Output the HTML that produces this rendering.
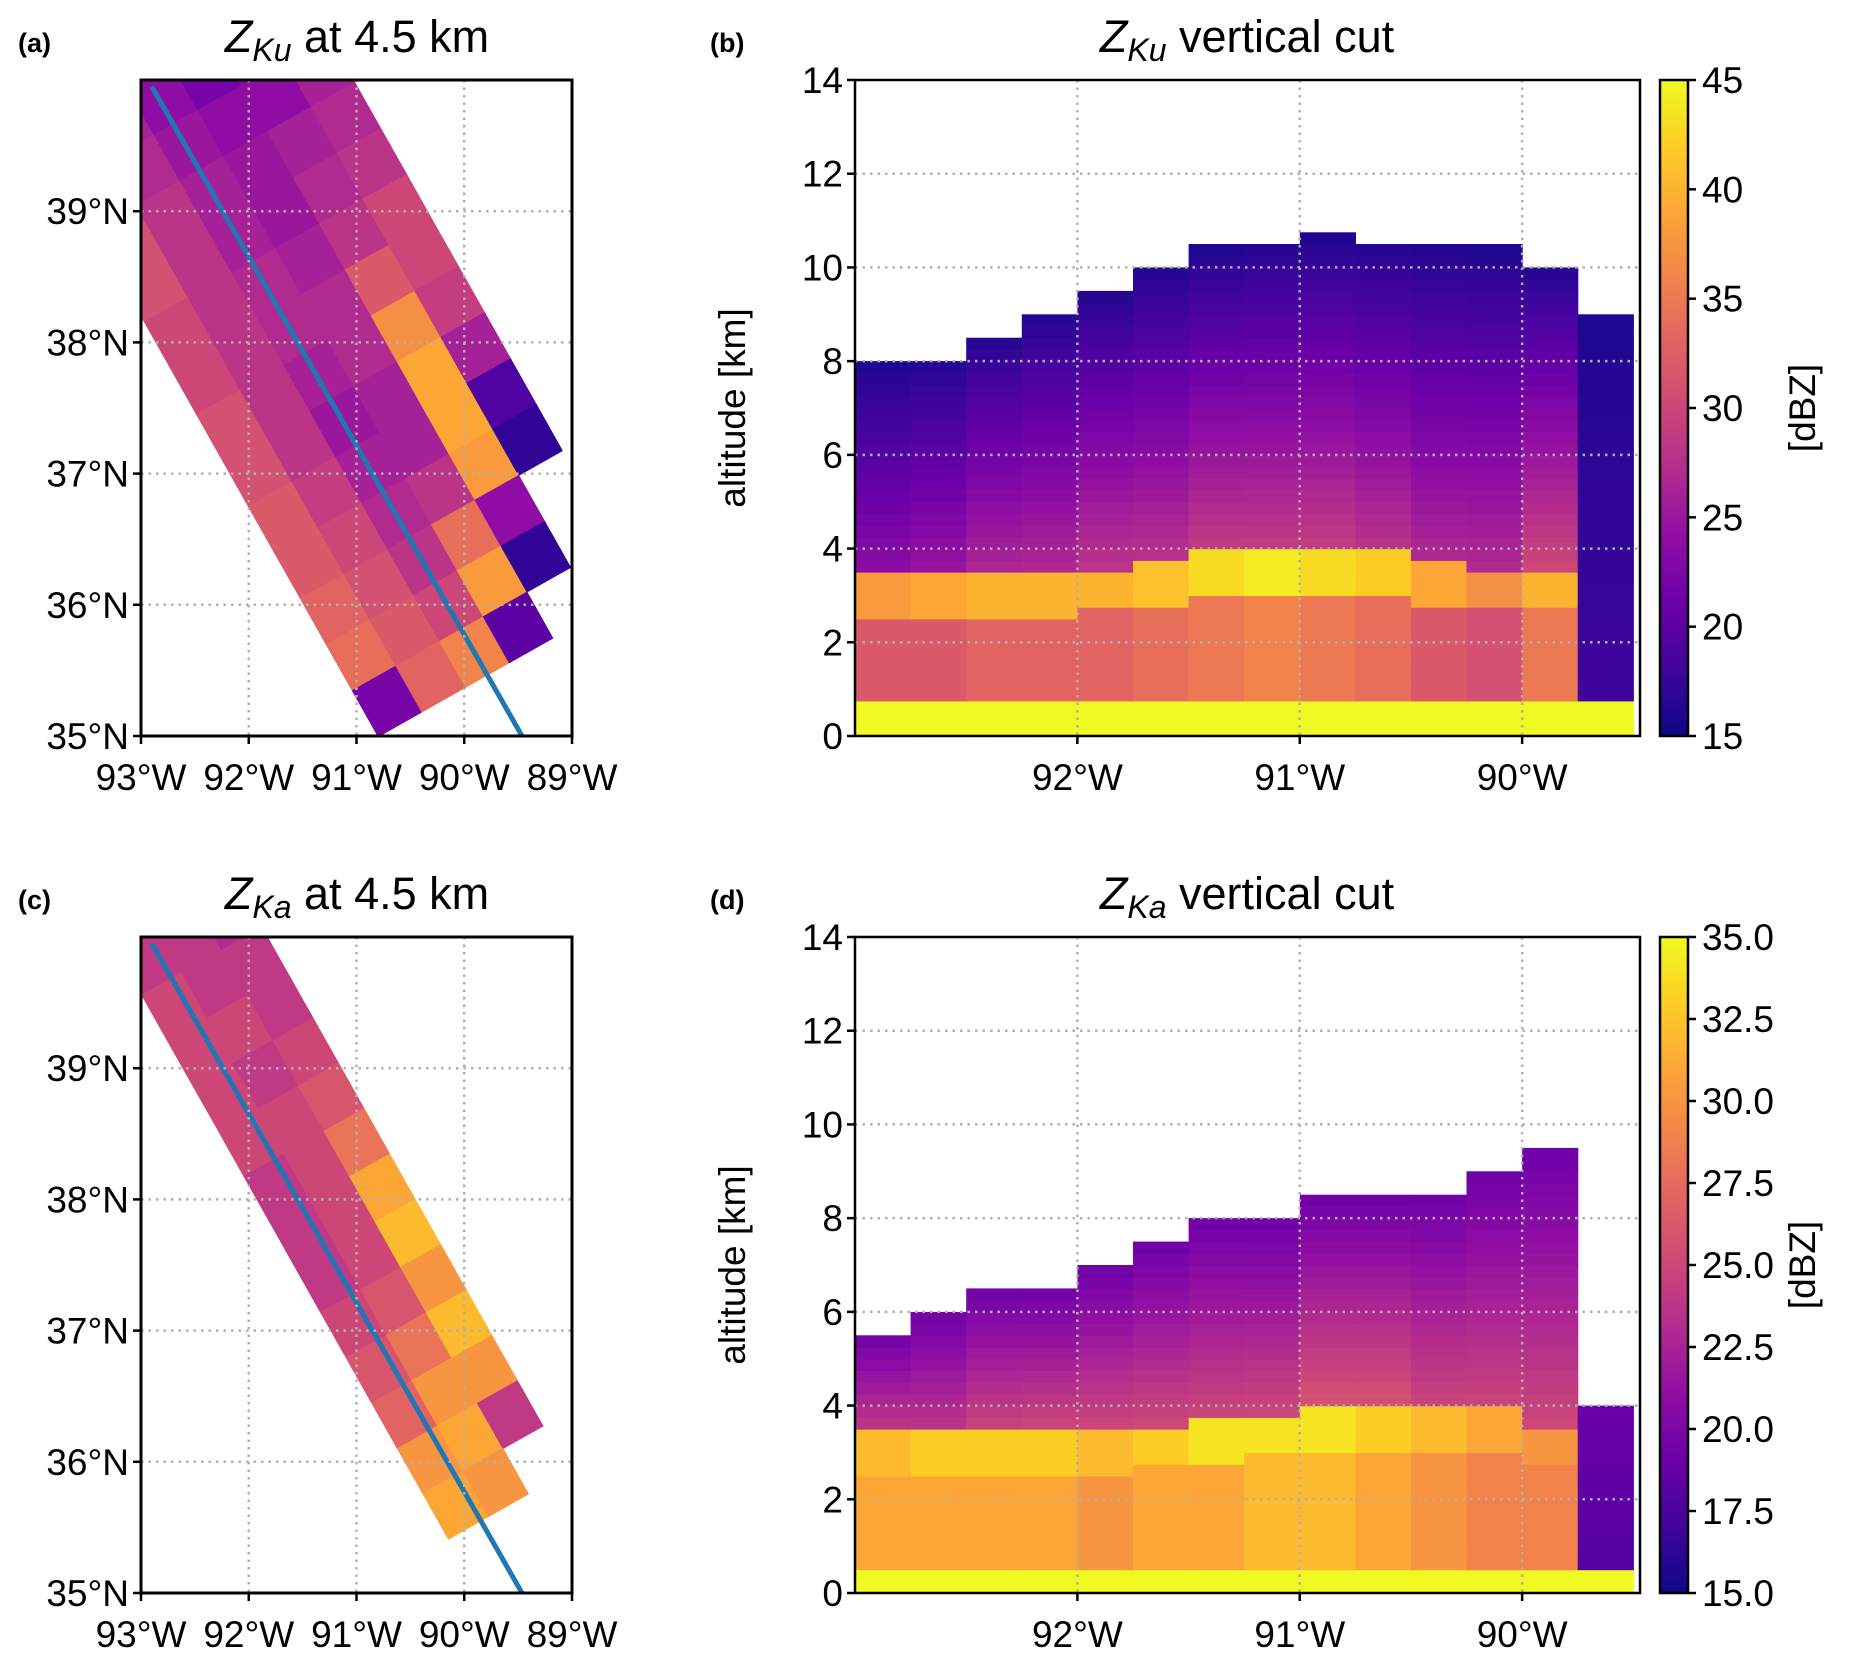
<!DOCTYPE html>
<html><head><meta charset="utf-8"><style>
html,body{margin:0;padding:0;background:#fff;}
svg{display:block;font-family:"Liberation Sans","DejaVu Sans",sans-serif;}
</style></head><body>
<svg id="fig" width="1867" height="1662" viewBox="0 0 1867 1662" xmlns="http://www.w3.org/2000/svg">
<defs>
<clipPath id="clipA"><rect x="141" y="80" width="431" height="656"/></clipPath>
<clipPath id="clipC"><rect x="141" y="937" width="431" height="655"/></clipPath>
</defs>
<g id="root"></g>
</svg>
<script>
// ---------- DATA ----------
const mapLonTicks = [-93, -92, -91, -90, -89];
const mapLatTicks = [35, 36, 37, 38, 39];
const mapLonLabels = ["93°W","92°W","91°W","90°W","89°W"];
const mapLatLabels = ["35°N","36°N","37°N","38°N","39°N"];
const trackLon = [-92.9, -89.45];
const trackLat = [39.95, 34.98];
const kuMap = [
[24,23,21,19,20,22],[25,23,21,19,20,22],[27,24,22,20,21,23],[29,26,24,22,23,25],
[30,27,25,24,24,26],[31,28,26,25,26,27],[31,28,26,25,27,28],[30,28,27,26,28,30],
[30,28,27,27,32,30],[31,28,26,27,37,29],[31,28,25,26,39,26],[32,29,26,26,39,19],
[32,30,27,28,38,17],[33,31,28,34,24,null],[34,32,30,38,17,null],[22,33,36,20,null,null]];
const kaMap = [
[22,23,22],[23,23,22],[24,23,23],[24,24,23],[25,24,24],[25,25,24],[25,24,25],[25,25,26],
[24,25,28],[24,25,31],[24,25,32],[25,26,30],[26,28,32],[27,30,30],[30,31,24],[31,30,null]];
const cutLon = [-92.875,-92.625,-92.375,-92.125,-91.875,-91.625,-91.375,-91.125,-90.875,-90.625,-90.375,-90.125,-89.875,-89.625];
const kuEchoTop = [7.8,8.0,8.5,9.0,9.5,10.0,10.3,10.5,10.6,10.5,10.4,10.3,10.0,9.0];
const kuBBTop = [3.3,3.3,3.3,3.4,3.5,3.6,3.8,3.8,3.9,3.9,3.6,3.5,3.5,0.6];
const kuBBPeak = [38,39,40,40,40,41,43,44,43,42,39,37,40,18];
const kuRain = [32,32,33,33,33,34,35,36,35,34,32,31,35,18];
const kuIce = [24,25,27,27,28,28,29,29,29,28,27,27,30,18];
const kaEchoTop = [5.5,6.0,6.5,6.5,7.0,7.5,8.0,8.0,8.5,8.5,8.5,9.0,9.5,4.0];
const kaBBTop = [3.4,3.3,3.3,3.4,3.4,3.5,3.6,3.7,3.8,3.8,3.8,3.8,3.5,0.4];
const kaBBPeak = [32,33,33,33,32,33,34,34,34,33,32,31,30,18];
const kaRain = [31,31,31,31,30,31,31,32,32,31,30,29,29,18];
const kaIce = [24,24,25,25,25,25,25,25,26,26,25,25,25,18];
const altTicks = [0,2,4,6,8,10,12,14];
const cutLonTicks = [-92,-91,-90];
const cutLonLabels = ["92°W","91°W","90°W"];
const kuCbTicks = [15,20,25,30,35,40,45];
const kaCbTicks = [15,17.5,20,22.5,25,27.5,30,32.5,35];

// ---------- HELPERS ----------
const NS="http://www.w3.org/2000/svg";
const root=document.getElementById('root');
function el(tag,attrs,parent){const e=document.createElementNS(NS,tag);for(const k in attrs)e.setAttribute(k,attrs[k]);(parent||root).appendChild(e);return e;}
const plasma=["#0d0887","#41049d","#6a00a8","#8f0da4","#b12a90","#cc4778","#e16462","#f2844b","#fca636","#fcce25","#f0f921"];
function hex(c){return [parseInt(c.slice(1,3),16),parseInt(c.slice(3,5),16),parseInt(c.slice(5,7),16)];}
function cmap(v,lo,hi){let t=(v-lo)/(hi-lo);t=Math.max(0,Math.min(1,t));const f=t*10,i=Math.min(9,Math.floor(f)),r=f-i;const a=hex(plasma[i]),b=hex(plasma[i+1]);return `rgb(${Math.round(a[0]+(b[0]-a[0])*r)},${Math.round(a[1]+(b[1]-a[1])*r)},${Math.round(a[2]+(b[2]-a[2])*r)})`;}
function txt(s,x,y,size,anchor,parent,extra){const t=el('text',Object.assign({x:x,y:y,'font-size':size,'text-anchor':anchor||'start',fill:'#000'},extra||{}),parent);t.textContent=s;return t;}

// ---------- MAP PANELS ----------
function mapPanel(y0,clip,data,cross0,cross1,tEnd,lo,hi,nameP){
  const x0=141,x1=572,y1=y0+656;
  const g=el('g',{},root);
  
  
  const xs=lon=>x0+(lon+93)*(x1-x0)/4;
  const ys=lat=>y1-(lat-35)*(y1-y0)/5;
  const cg=el('g',{'clip-path':`url(#${clip})`},g);
  const ux=0.491,uy=0.871,vx=0.871,vy=-0.491,Ox=141,Oy=y0+236,tStart=-363;
  const rows=data.length,cols=data[0].length;
  const dt=(tEnd-tStart)/rows,dc=(cross1-cross0)/cols;
  for(let i=0;i<rows;i++)for(let j=0;j<cols;j++){
    const v=data[i][j]; if(v===null)continue;
    const pts=[[0,0],[1,0],[1,1],[0,1]].map(([a,b])=>{const t=tStart+(i+a)*dt,c=cross0+(j+b)*dc;return (Ox+ux*t+vx*c).toFixed(1)+','+(Oy+uy*t+vy*c).toFixed(1);}).join(' ');
    const p=el('polygon',{points:pts,fill:cmap(v,lo,hi),stroke:cmap(v,lo,hi),'stroke-width':0.8},cg);
    
    
  }
  mapLonTicks.forEach(l=>{const x=xs(l);const ln=el('line',{x1:x,x2:x,y1:y0,y2:y1,stroke:'#b0b0b0','stroke-width':2.5,'stroke-dasharray':'2.5,5'},g);});
  mapLatTicks.forEach(l=>{const y=ys(l);const ln=el('line',{x1:x0,x2:x1,y1:y,y2:y,stroke:'#b0b0b0','stroke-width':2.5,'stroke-dasharray':'2.5,5'},g);});
  const tr=el('line',{x1:xs(trackLon[0]),y1:ys(trackLat[0]),x2:xs(trackLon[1]),y2:ys(trackLat[1]),stroke:'#1f77b4','stroke-width':5},cg);
  
  
  const fr=el('rect',{x:x0,y:y0,width:x1-x0,height:y1-y0,fill:'none',stroke:'#000','stroke-width':3},g);
  
  
  mapLonTicks.forEach((l,k)=>{const x=xs(l);el('line',{x1:x,x2:x,y1:y1,y2:y1+8,stroke:'#000','stroke-width':2.5},g);const t=txt(mapLonLabels[k],x,y1+54,37,'middle',g);});
  mapLatTicks.forEach((l,k)=>{const y=ys(l);el('line',{x1:x0-8,x2:x0,y1:y,y2:y,stroke:'#000','stroke-width':2.5},g);const t=txt(mapLatLabels[k],x0-12,y+13,37,'end',g);});
}
mapPanel(80,'clipA',kuMap,0,301,483,15,45,'ku');
mapPanel(937,'clipC',kaMap,88,226,470,15,35,'ka');

// ---------- VERTICAL CUT PANELS ----------
function cutPanel(y0,echo,bb,peak,rain,ice,surfTop,surfVal,topVal,lo,hi,cbTicks,cbFmt,nameP){
  const x0=855,x1=1640,y1=y0+656;
  const g=el('g',{},root);
  
  
  const lonMin=-93,lonMax=-89.47;
  const xs=l=>x0+(l-lonMin)*(x1-x0)/(lonMax-lonMin);
  const ys=z=>y1-z*(y1-y0)/14;
  const half=0.125,dz=0.25;
  cutLon.forEach((lon,i)=>{
    const xa=xs(lon-half),xb=Math.min(x1,xs(lon+half));
    for(let z=0;z<echo[i];z+=dz){
      let v;
      if(z<surfTop)v=surfVal;
      else if(z<bb[i]-0.9)v=rain[i];
      else if(z<bb[i])v=peak[i];
      else v=ice[i]+(topVal-ice[i])*(z-bb[i])/Math.max(0.1,echo[i]-bb[i]);
      const r=el('rect',{x:xa.toFixed(1),y:ys(z+dz).toFixed(1),width:(xb-xa+0.6).toFixed(1),height:((y1-y0)/14*dz+0.6).toFixed(1),fill:cmap(v,lo,hi)},g);
      
      
    }
  });
  cutLonTicks.forEach(l=>{const x=xs(l);const ln=el('line',{x1:x,x2:x,y1:y0,y2:y1,stroke:'#b0b0b0','stroke-width':2.5,'stroke-dasharray':'2.5,5'},g);});
  altTicks.forEach(a=>{const y=ys(a);const ln=el('line',{x1:x0,x2:x1,y1:y,y2:y,stroke:'#b0b0b0','stroke-width':2.5,'stroke-dasharray':'2.5,5'},g);});
  const fr=el('rect',{x:x0,y:y0,width:x1-x0,height:y1-y0,fill:'none',stroke:'#000','stroke-width':2.5},g);
  
  
  cutLonTicks.forEach((l,k)=>{const x=xs(l);el('line',{x1:x,x2:x,y1:y1,y2:y1+8,stroke:'#000','stroke-width':2.5},g);const t=txt(cutLonLabels[k],x,y1+54,37,'middle',g);});
  altTicks.forEach(a=>{const y=ys(a);el('line',{x1:x0-8,x2:x0,y1:y,y2:y,stroke:'#000','stroke-width':2.5},g);const t=txt(String(a),x0-12,y+13,37,'end',g);});
  const yl=txt('altitude [km]',0,0,37,'middle',g,{transform:`translate(745,${(y0+y1)/2}) rotate(-90)`});
  
  
  const cx=1660,cw=28;
  const gid='grad'+nameP;
  const lg=el('linearGradient',{id:gid,x1:0,y1:1,x2:0,y2:0},document.querySelector('defs'));
  plasma.forEach((c,k)=>el('stop',{offset:k/10,'stop-color':c},lg));
  const cb=el('rect',{x:cx,y:y0,width:cw,height:y1-y0,fill:`url(#${gid})`,stroke:'#000','stroke-width':2.5},g);
  
  
  const cys=v=>y1-(v-lo)*(y1-y0)/(hi-lo);
  cbTicks.forEach(v=>{const y=cys(v);el('line',{x1:cx+cw,x2:cx+cw+8,y1:y,y2:y,stroke:'#000','stroke-width':2.5},g);const t=txt(cbFmt(v),cx+cw+14,y+13,37,'start',g);});
  const cl=txt('[dBZ]',0,0,37,'middle',g,{transform:`translate(1815,${(y0+y1)/2}) rotate(-90)`});
  
  
}
cutPanel(80,kuEchoTop,kuBBTop,kuBBPeak,kuRain,kuIce,0.6,45,16,15,45,kuCbTicks,v=>String(v),'ku');
cutPanel(937,kaEchoTop,kaBBTop,kaBBPeak,kaRain,kaIce,0.45,35,19,15,35,kaCbTicks,v=>v.toFixed(1),'ka');

// ---------- TITLES ----------
function title(x,y,band,rest,name){
  const t=el('text',{x:x,y:y,'font-size':45,'text-anchor':'middle',fill:'#000'});
  
  
  const a=el('tspan',{'font-style':'italic'},t);a.textContent='Z';
  const b=el('tspan',{'font-style':'italic','font-size':32,dy:9},t);b.textContent=band;
  const c=el('tspan',{dy:-9},t);c.textContent=' '+rest;
}
title(357,52,'Ku','at 4.5 km','title-a');
title(1247,52,'Ku','vertical cut','title-b');
title(357,909,'Ka','at 4.5 km','title-c');
title(1247,909,'Ka','vertical cut','title-d');
[['(a)',18,52],['(b)',710,52],['(c)',18,909],['(d)',710,909]].forEach(([s,x,y])=>{
  const t=txt(s,x,y,27,'start',root,{'font-weight':'bold'});
  
  
});
</script>
</body></html>
